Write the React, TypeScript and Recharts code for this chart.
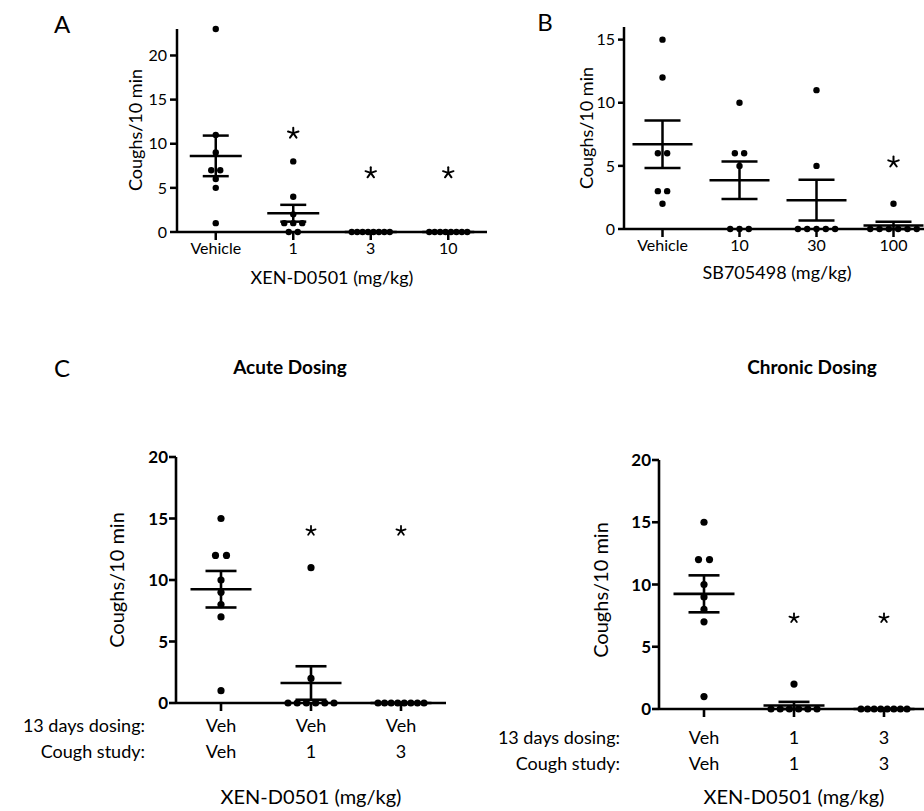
import React from 'react';
import { ScatterChart, Scatter, XAxis, YAxis, ErrorBar } from 'recharts';

// ---------- Panel A: XEN-D0501 ----------
const aCategories = ['Vehicle', '1', '3', '10'];
const aVehicle = [23, 11, 9, 7, 7, 6, 5, 1];
const aDose1 = [8, 4, 2, 1, 1, 1, 0, 0];
const aDose3 = [0, 0, 0, 0, 0, 0, 0, 0];
const aDose10 = [0, 0, 0, 0, 0, 0, 0, 0];
const aYTicks = [0, 5, 10, 15, 20];
const aYMax = 23;
const aStarCats = [1, 2, 3];
const aStarValues = [11.2, 6.7, 6.7];

// ---------- Panel B: SB705498 ----------
const bCategories = ['Vehicle', '10', '30', '100'];
const bVehicle = [15, 12, 6, 6, 3, 3, 2];
const bDose10 = [10, 6, 6, 5, 0, 0, 0];
const bDose30 = [11, 5, 0, 0, 0, 0, 0];
const bDose100 = [2, 0, 0, 0, 0, 0, 0];
const bYTicks = [0, 5, 10, 15];
const bYMax = 16;
const bStarCats = [3];
const bStarValues = [5.3];

// ---------- Panel C: Acute dosing ----------
const acuteDosing = ['Veh', 'Veh', 'Veh'];
const acuteCough = ['Veh', '1', '3'];
const acuteVeh = [15, 12, 12, 10, 9, 8, 7, 1];
const acuteDose1 = [11, 2, 0, 0, 0, 0, 0, 0];
const acuteDose3 = [0, 0, 0, 0, 0, 0, 0, 0];
const acuteStarCats = [1, 2];
const acuteStarValues = [14, 14];

// ---------- Panel C: Chronic dosing ----------
const chronicDosing = ['Veh', '1', '3'];
const chronicCough = ['Veh', '1', '3'];
const chronicVeh = [15, 12, 12, 10, 9, 8, 7, 1];
const chronicDose1 = [2, 0, 0, 0, 0, 0, 0];
const chronicDose3 = [0, 0, 0, 0, 0, 0, 0, 0];
const chronicStarCats = [1, 2];
const chronicStarValues = [7.3, 7.3];

const cYTicks = [0, 5, 10, 15, 20];
const cYMax = 20;

const FONT = 'Lato, "Open Sans", "DejaVu Sans", sans-serif';

function swarm(values: number[], cat: number, spacingPx: number, maxSpreadPx: number, pxPerCat: number) {
  const counts = new Map<number, number>();
  values.forEach((v) => counts.set(v, (counts.get(v) || 0) + 1));
  const out: { x: number; y: number }[] = [];
  counts.forEach((n, v) => {
    const s = n > 1 ? Math.min(spacingPx, maxSpreadPx / (n - 1)) : 0;
    for (let k = 0; k < n; k++) {
      out.push({ x: cat + ((k - (n - 1) / 2) * s) / pxPerCat, y: v });
    }
  });
  return out;
}

function stats(values: number[]) {
  const n = values.length;
  const mean = values.reduce((a, b) => a + b, 0) / n;
  const ss = values.reduce((a, b) => a + (b - mean) * (b - mean), 0);
  const sd = n > 1 ? Math.sqrt(ss / (n - 1)) : 0;
  return { mean, sem: sd / Math.sqrt(n) };
}

type PanelProps = {
  left: number;
  top: number;
  width: number;
  height: number;
  marginTop: number;
  yAxisWidth: number;
  xAxisHeight: number;
  groups: number[][];
  categories: string[];
  yMax: number;
  yTicks: number[];
  starCats: number[];
  starValues: number[];
  pxPerCat: number;
  spacing: number;
  maxSpread: number;
  dotR: number;
  meanHalf: number;
  capHalf: number;
  lineW: number;
  starR: number;
  starW: number;
  xTick: any;
  xTickMargin: number;
  yTick: any;
  yTickSize: number;
  yTickMargin: number;
};

function Panel(p: PanelProps) {
  const n = p.categories.length;
  const points = p.groups.flatMap((g, i) => swarm(g, i, p.spacing, p.maxSpread, p.pxPerCat));
  const summary = p.groups.map((g, i) => {
    const s = stats(g);
    return { x: i, y: s.mean, sem: s.sem };
  });
  const stars = p.starCats.map((c, k) => ({ x: c, y: p.starValues[k] }));
  const ticks = p.categories.map((_, i) => i);

  const dotShape = (props: any) => <circle cx={props.cx} cy={props.cy} r={p.dotR} fill="#000" />;
  const meanShape = (props: any) => (
    <line
      x1={props.cx - p.meanHalf}
      x2={props.cx + p.meanHalf}
      y1={props.cy}
      y2={props.cy}
      stroke="#000"
      strokeWidth={p.lineW}
    />
  );
  const starShape = (props: any) => {
    const spokes = [0, 1, 2, 3, 4].map((k) => {
      const a = (-90 + k * 72) * (Math.PI / 180);
      return (
        <line
          key={k}
          x1={props.cx}
          y1={props.cy}
          x2={props.cx + p.starR * Math.cos(a)}
          y2={props.cy + p.starR * Math.sin(a)}
          stroke="#000"
          strokeWidth={p.starW}
          strokeLinecap="round"
        />
      );
    });
    return <g>{spokes}</g>;
  };

  return (
    <div style={{ position: 'absolute', left: p.left, top: p.top }}>
      <ScatterChart
        width={p.width}
        height={p.height}
        margin={{ top: p.marginTop, right: 0, bottom: 0, left: 0 }}
      >
        <XAxis
          type="number"
          dataKey="x"
          domain={[-0.5, n - 0.5]}
          ticks={ticks}
          interval={0}
          height={p.xAxisHeight}
          tickSize={8}
          tickMargin={p.xTickMargin}
          tick={p.xTick}
          tickFormatter={(v: number) => p.categories[Math.round(v)]}
          axisLine={{ stroke: '#000', strokeWidth: p.lineW }}
          tickLine={{ stroke: '#000', strokeWidth: p.lineW }}
        />
        <YAxis
          type="number"
          dataKey="y"
          domain={[0, p.yMax]}
          ticks={p.yTicks}
          interval={0}
          width={p.yAxisWidth}
          tickSize={p.yTickSize}
          tickMargin={p.yTickMargin}
          tick={p.yTick}
          axisLine={{ stroke: '#000', strokeWidth: p.lineW }}
          tickLine={{ stroke: '#000', strokeWidth: p.lineW }}
        />
        <Scatter data={summary} shape={meanShape} isAnimationActive={false}>
          <ErrorBar
            dataKey="sem"
            direction="y"
            width={p.capHalf}
            stroke="#000"
            strokeWidth={p.lineW}
            isAnimationActive={false}
          />
        </Scatter>
        <Scatter data={points} shape={dotShape} isAnimationActive={false} />
        <Scatter data={stars} shape={starShape} isAnimationActive={false} />
      </ScatterChart>
    </div>
  );
}

const makeTwoRowTick = (row1: string[], row2: string[], b1: number, b2: number, fs: number) => (props: any) => {
  const { x, y, payload } = props;
  const i = Math.round(payload.value);
  return (
    <g>
      <text x={x} y={y + b1} textAnchor="middle" fontSize={fs} fill="#000" fontFamily={FONT}>
        {row1[i]}
      </text>
      <text x={x} y={y + b2} textAnchor="middle" fontSize={fs} fill="#000" fontFamily={FONT}>
        {row2[i]}
      </text>
    </g>
  );
};

export default function App() {
  const abXTick = { fill: '#000', fontSize: 16, fontFamily: FONT };
  const abYTick = { fill: '#000', fontSize: 16, fontFamily: FONT };
  const cYTick = { fill: '#000', fontSize: 17, fontWeight: 'bold', fontFamily: FONT };

  return (
    <div
      style={{
        position: 'absolute',
        left: 0,
        top: 0,
        width: 924,
        height: 811,
        overflow: 'hidden',
        background: '#fff',
        fontFamily: FONT,
      }}
    >
      <Panel
        left={0}
        top={0}
        width={487}
        height={262}
        marginTop={29}
        yAxisWidth={177}
        xAxisHeight={30}
        groups={[aVehicle, aDose1, aDose3, aDose10]}
        categories={aCategories}
        yMax={aYMax}
        yTicks={aYTicks}
        starCats={aStarCats}
        starValues={aStarValues}
        pxPerCat={77.5}
        spacing={9}
        maxSpread={38}
        dotR={3.2}
        meanHalf={26}
        capHalf={13}
        lineW={2.5}
        starR={5.5}
        starW={2}
        xTick={abXTick}
        xTickMargin={3}
        yTick={abYTick}
        yTickSize={7}
        yTickMargin={3}
      />
      <Panel
        left={540}
        top={0}
        width={392}
        height={259}
        marginTop={27}
        yAxisWidth={84}
        xAxisHeight={30}
        groups={[bVehicle, bDose10, bDose30, bDose100]}
        categories={bCategories}
        yMax={bYMax}
        yTicks={bYTicks}
        starCats={bStarCats}
        starValues={bStarValues}
        pxPerCat={77}
        spacing={9.3}
        maxSpread={55}
        dotR={3.2}
        meanHalf={30}
        capHalf={18}
        lineW={2.5}
        starR={5.5}
        starW={2}
        xTick={abXTick}
        xTickMargin={3}
        yTick={abYTick}
        yTickSize={6}
        yTickMargin={3}
      />
      <Panel
        left={0}
        top={440}
        width={446}
        height={343}
        marginTop={17}
        yAxisWidth={176}
        xAxisHeight={80}
        groups={[acuteVeh, acuteDose1, acuteDose3]}
        categories={acuteCough}
        yMax={cYMax}
        yTicks={cYTicks}
        starCats={acuteStarCats}
        starValues={acuteStarValues}
        pxPerCat={90}
        spacing={11}
        maxSpread={46}
        dotR={3.6}
        meanHalf={30.5}
        capHalf={15.5}
        lineW={2.6}
        starR={4.8}
        starW={1.8}
        xTick={makeTwoRowTick(acuteDosing, acuteCough, 21, 47, 18)}
        xTickMargin={0}
        yTick={cYTick}
        yTickSize={7}
        yTickMargin={1}
      />
      <Panel
        left={560}
        top={440}
        width={369}
        height={349}
        marginTop={20}
        yAxisWidth={99}
        xAxisHeight={80}
        groups={[chronicVeh, chronicDose1, chronicDose3]}
        categories={chronicCough}
        yMax={cYMax}
        yTicks={cYTicks}
        starCats={chronicStarCats}
        starValues={chronicStarValues}
        pxPerCat={90}
        spacing={11}
        maxSpread={46}
        dotR={3.6}
        meanHalf={30.5}
        capHalf={15.5}
        lineW={2.6}
        starR={4.8}
        starW={1.8}
        xTick={makeTwoRowTick(chronicDosing, chronicCough, 27, 53, 18)}
        xTickMargin={0}
        yTick={cYTick}
        yTickSize={7}
        yTickMargin={1}
      />
      <svg
        width={924}
        height={811}
        style={{ position: 'absolute', left: 0, top: 0, pointerEvents: 'none' }}
        fontFamily={FONT}
      >
        <text x={62} y={33} textAnchor="middle" fontSize={24} fill="#000">A</text>
        <text x={545} y={31} textAnchor="middle" fontSize={24} fill="#000">B</text>
        <text x={62} y={377} textAnchor="middle" fontSize={24} fill="#000">C</text>

        <text x={290} y={374} textAnchor="middle" fontSize={19} fontWeight="bold" fill="#000">Acute Dosing</text>
        <text x={812} y={374} textAnchor="middle" fontSize={19} fontWeight="bold" fill="#000">Chronic Dosing</text>

        <text x={135} y={130} textAnchor="middle" dominantBaseline="central" fontSize={18} fill="#000" transform="rotate(-90 135 130)">Coughs/10 min</text>
        <text x={586} y={128} textAnchor="middle" dominantBaseline="central" fontSize={18} fill="#000" transform="rotate(-90 586 128)">Coughs/10 min</text>
        <text x={116} y={580} textAnchor="middle" dominantBaseline="central" fontSize={20} fill="#000" transform="rotate(-90 116 580)">Coughs/10 min</text>
        <text x={600} y={590} textAnchor="middle" dominantBaseline="central" fontSize={20} fill="#000" transform="rotate(-90 600 590)">Coughs/10 min</text>

        <text x={332} y={284} textAnchor="middle" fontSize={18} fill="#000">XEN-D0501 (mg/kg)</text>
        <text x={777} y={279} textAnchor="middle" fontSize={18} fill="#000">SB705498 (mg/kg)</text>

        <text x={145} y={732} textAnchor="end" fontSize={18} fill="#000">13 days dosing:</text>
        <text x={145} y={758} textAnchor="end" fontSize={18} fill="#000">Cough study:</text>
        <text x={620} y={744} textAnchor="end" fontSize={18} fill="#000">13 days dosing:</text>
        <text x={620} y={770} textAnchor="end" fontSize={18} fill="#000">Cough study:</text>

        <text x={311} y={804} textAnchor="middle" fontSize={20} fill="#000">XEN-D0501 (mg/kg)</text>
        <text x={794} y={804} textAnchor="middle" fontSize={20} fill="#000">XEN-D0501 (mg/kg)</text>
      </svg>
    </div>
  );
}
